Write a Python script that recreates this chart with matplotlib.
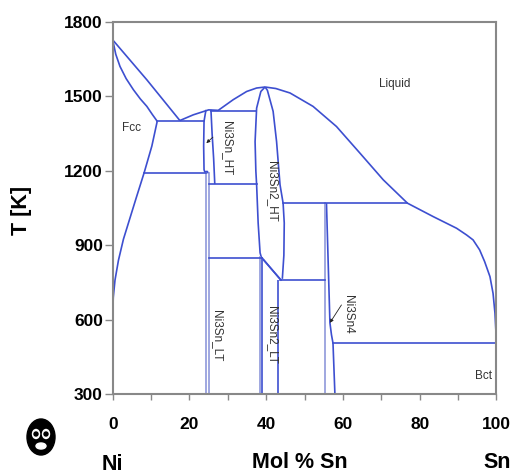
import matplotlib
matplotlib.use('Agg')
import matplotlib.pyplot as plt
from matplotlib.patches import Ellipse, Circle

plt.rcParams['font.family'] = ['Liberation Sans', 'DejaVu Sans']

# ---------------- data (x = mol % Sn, T = kelvin) ----------------
liq_ni_x = [0, 8.9, 17.5]
liq_ni_T = [1728, 1567, 1403]

fcc_solidus_x = [0, 0.8, 1.9, 3.5, 5.4, 7.2, 8.9, 10.3, 11.6]
fcc_solidus_T = [1728, 1670, 1621, 1572, 1527, 1490, 1460, 1428, 1400]

fcc_solvus_x = [11.6, 10.2, 8.2, 6.1, 4.3, 2.8, 1.5, 0.6, 0.15, 0.0, 0.0]
fcc_solvus_T = [1400, 1300, 1193, 1090, 1000, 925, 840, 760, 690, 620, 300]

liq_mid_x = [17.5, 21.0, 23.8, 25.0, 27.5, 31.4, 34.9, 37.5, 39.7]
liq_mid_T = [1403, 1426, 1440, 1446, 1444, 1487, 1520, 1534, 1538]

liq_sn_x = [39.7, 42.5, 46.2, 52.2, 58.3, 64.4, 70.5, 76.8, 83.5, 89.6, 92.2, 93.9,
            95.6, 96.9, 98.3, 99.1, 99.6, 100]
liq_sn_T = [1538, 1532, 1514, 1460, 1379, 1272, 1164, 1070, 1016, 969, 942, 922,
            882, 835, 774, 707, 627, 506]

ni3sn_ht_left_x = [24.3, 23.8, 23.7, 23.8, 24.0, 24.6, 25.0]
ni3sn_ht_left_T = [1446, 1400, 1300, 1205, 1196, 1198, 1190]
ni3sn_ht_right_x = [25.6, 25.9, 26.3, 26.6]
ni3sn_ht_right_T = [1446, 1350, 1250, 1147]

ni3sn_lt_x = [24.3, 25.1]
ni3sn_lt_T = [1193, 300]

ni3sn2_ht_left_x = [39.7, 38.6, 37.5, 37.1, 37.3, 37.5, 37.9, 38.4, 38.8]
ni3sn2_ht_left_T = [1538, 1520, 1453, 1318, 1200, 1144, 990, 870, 848]
ni3sn2_ht_right_x = [39.7, 40.3, 41.8, 42.7, 43.6, 44.4, 44.7, 44.6, 44.2]
ni3sn2_ht_right_T = [1538, 1525, 1440, 1318, 1144, 1070, 990, 860, 765]
ni3sn2_ht_low_x = [38.8, 43.6]
ni3sn2_ht_low_T = [852, 764]
ni3sn2_lt_top_x = [39.2, 44.0]
ni3sn2_lt_top_T = [843, 758]
ni3sn2_lt_left_x = [38.8, 38.8]
ni3sn2_lt_left_T = [848, 300]
ni3sn2_lt_left2_x = [38.4, 38.4]
ni3sn2_lt_left2_T = [855, 300]
ni3sn2_lt_right_x = [43.1, 43.1]
ni3sn2_lt_right_T = [762, 300]

ni3sn4_left_x = [55.3, 55.3]
ni3sn4_left_T = [1070, 300]
ni3sn4_right_x = [55.7, 56.1, 56.6, 57.0, 57.4, 57.9]
ni3sn4_right_T = [1070, 855, 588, 540, 506, 300]

# invariant (horizontal) lines: (T, x_start, x_end)
iso_T = [1400, 1442, 1193, 1147, 1070, 848, 760, 506]
iso_x0 = [11.6, 25.6, 8.2, 25.0, 44.5, 25.1, 43.6, 57.4]
iso_x1 = [23.8, 37.4, 24.2, 37.5, 76.8, 38.8, 55.3, 100]

# phase labels
lab_text = ['Liquid', 'Fcc', 'Ni3Sn_HT', 'Ni3Sn2_HT', 'Ni3Sn_LT', 'Ni3Sn2_LT', 'Ni3Sn4', 'Bct']
lab_x = [73.6, 5.0, 29.8, 41.4, 27.1, 41.4, 61.2, 96.5]
lab_T = [1550, 1372, 1293, 1118, 536, 539, 624, 375]
lab_rot = [0, 0, 270, 270, 270, 270, 270, 0]

# pointer arrows: (label-side point) -> (boundary point)
arr_from_x = [26.1, 59.6]
arr_from_T = [1336, 660]
arr_to_x = [24.4, 56.6]
arr_to_T = [1312, 588]

x_ticks = [0, 10, 20, 30, 40, 50, 60, 70, 80, 90, 100]
x_ticklabels = ['0', '', '20', '', '40', '', '60', '', '80', '', '100']
y_ticks = [300, 600, 900, 1200, 1500, 1800]

# ---------------- figure ----------------
BLUE = '#3d4fd0'
LIGHT = '#8f98da'
LW = 1.2

fig = plt.figure(figsize=(5.16, 4.75), dpi=100)
ax = fig.add_axes([0.2184, 0.1699, 0.7438, 0.7838])

main_curves = [
    (liq_ni_x, liq_ni_T), (fcc_solidus_x, fcc_solidus_T), (fcc_solvus_x, fcc_solvus_T),
    (liq_mid_x, liq_mid_T), (liq_sn_x, liq_sn_T),
    (ni3sn_ht_left_x, ni3sn_ht_left_T), (ni3sn_ht_right_x, ni3sn_ht_right_T),
    (ni3sn2_ht_left_x, ni3sn2_ht_left_T), (ni3sn2_ht_right_x, ni3sn2_ht_right_T),
    (ni3sn2_ht_low_x, ni3sn2_ht_low_T), (ni3sn2_lt_top_x, ni3sn2_lt_top_T),
    (ni3sn2_lt_left_x, ni3sn2_lt_left_T), (ni3sn2_lt_right_x, ni3sn2_lt_right_T),
    (ni3sn4_right_x, ni3sn4_right_T),
]
for cx, cy in main_curves:
    ax.plot(cx, cy, color=BLUE, lw=LW, solid_capstyle='butt', solid_joinstyle='round')

light_curves = [
    ([ni3sn_lt_x[0]] * 2, ni3sn_lt_T), ([ni3sn_lt_x[1]] * 2, ni3sn_lt_T),
    (ni3sn2_lt_left2_x, ni3sn2_lt_left2_T), (ni3sn4_left_x, ni3sn4_left_T),
]
for cx, cy in light_curves:
    ax.plot(cx, cy, color=LIGHT, lw=LW)

for T, x0, x1 in zip(iso_T, iso_x0, iso_x1):
    ax.plot([x0, x1], [T, T], color=BLUE, lw=LW)

for t, x, y, r in zip(lab_text, lab_x, lab_T, lab_rot):
    ax.text(x, y, t, rotation=r, ha='center', va='center', fontsize=8.5, color='#333333')

for fx, fT, tx, tT in zip(arr_from_x, arr_from_T, arr_to_x, arr_to_T):
    ax.annotate('', xy=(tx, tT), xytext=(fx, fT),
                arrowprops=dict(arrowstyle='-|>', color='#222222', lw=0.6,
                                mutation_scale=5, shrinkA=0, shrinkB=0))

ax.set_xlim(0, 100)
ax.set_ylim(300, 1800)
ax.set_xticks(x_ticks)
ax.set_xticklabels(x_ticklabels)
ax.set_yticks(y_ticks)
ax.tick_params(axis='x', direction='out', length=4, width=1, color='#888888',
               labelsize=12.5, pad=12)
ax.tick_params(axis='y', direction='out', length=6, width=1, color='#888888',
               labelsize=12.5, pad=1)
for lbl in ax.get_xticklabels() + ax.get_yticklabels():
    lbl.set_fontweight('bold')
for s in ax.spines.values():
    s.set_color('#888888')
    s.set_linewidth(1.5)

W, H = 516.0, 475.0
fig.text(22 / W, 1 - 210 / H, 'T [K]', rotation=90, ha='center', va='center',
         fontsize=15.5, fontweight='bold')
fig.text(300 / W, 1 - 462 / H, 'Mol % Sn', ha='center', va='center',
         fontsize=15.5, fontweight='bold')
fig.text(112 / W, 1 - 465 / H, 'Ni', ha='center', va='center',
         fontsize=15.5, fontweight='bold')
fig.text(497 / W, 1 - 463 / H, 'Sn', ha='center', va='center',
         fontsize=15.5, fontweight='bold')

# small logo (decorative)
logo = fig.add_axes([22 / W, 1 - 458 / H, 38 / W, 42 / H])
logo.set_xlim(0, 38); logo.set_ylim(0, 42); logo.axis('off')
logo.add_patch(Ellipse((19, 21), 28, 36, color='black'))
logo.add_patch(Ellipse((14, 24), 7, 9, color='white'))
logo.add_patch(Ellipse((24, 24), 7, 9, color='white'))
logo.add_patch(Circle((14, 24), 2.0, color='black'))
logo.add_patch(Circle((24, 24), 2.0, color='black'))
logo.add_patch(Ellipse((19, 12), 10, 6, color='white'))

fig.savefig('out.png', dpi=100)
